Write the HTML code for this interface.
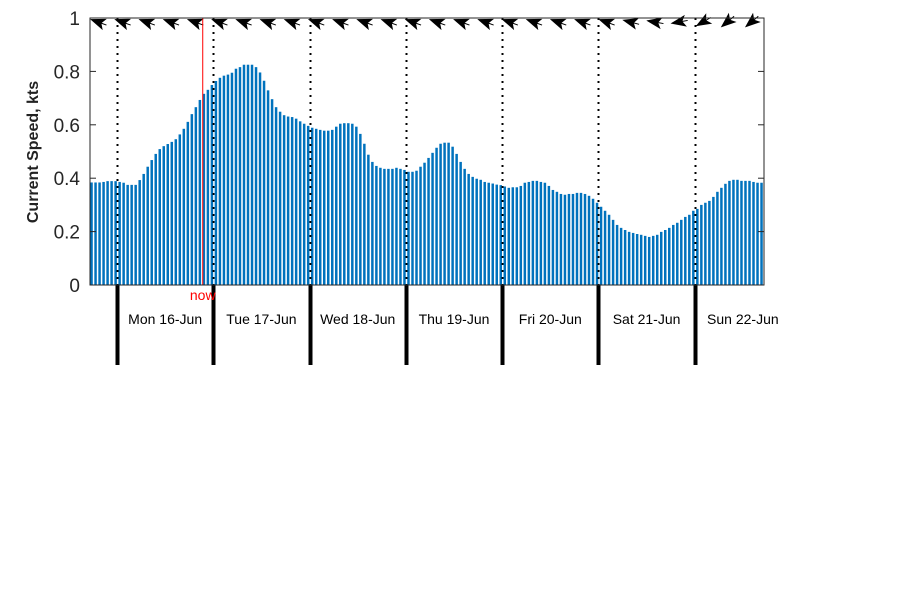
<!DOCTYPE html>
<html><head><meta charset="utf-8">
<style>
html,body{margin:0;padding:0;background:#fff;}
svg{display:block;font-family:"Liberation Sans","DejaVu Sans",sans-serif;}
</style></head>
<body>
<svg id="chart" width="900" height="600" viewBox="0 0 900 600" xmlns="http://www.w3.org/2000/svg">
<rect width="900" height="600" fill="#fff"/>
<g id="bars"></g>
<g id="grid"></g>
<g id="arrows"></g>
<g id="axes"></g>
<text x="0" y="0" transform="translate(38,152) rotate(-90)" text-anchor="middle" font-size="16" font-weight="bold" fill="#222">Current Speed, kts</text>
</svg>
<script>
const speeds = [
0.384,0.384,0.384,0.386,0.389,0.389,0.389,0.386,0.383,0.375,0.375,0.375,0.393,0.416,0.443,0.468,0.491,0.509,0.52,0.528,
0.536,0.546,0.564,0.585,0.611,0.64,0.666,0.693,0.716,0.731,0.749,0.764,0.776,0.784,0.788,0.795,0.81,0.816,0.825,0.825,
0.825,0.816,0.796,0.765,0.729,0.696,0.666,0.649,0.636,0.631,0.629,0.623,0.613,0.604,0.596,0.589,0.585,
0.581,0.578,0.578,0.581,0.593,0.604,0.606,0.606,0.604,0.593,0.566,0.529,0.488,0.461,0.446,0.439,0.435,0.435,0.435,0.439,
0.435,0.431,0.424,0.424,0.428,0.443,0.458,0.476,0.495,0.514,0.529,0.533,0.533,0.518,0.491,0.461,0.435,0.416,0.405,0.398,
0.394,0.386,0.383,0.38,0.376,0.374,0.369,0.364,0.366,0.366,0.371,0.383,0.386,0.39,0.39,
0.386,0.383,0.371,0.356,0.349,0.341,0.338,0.341,0.341,0.345,0.345,0.341,0.334,0.323,0.308,0.293,0.278,0.263,0.244,0.225,
0.214,0.206,0.199,0.195,0.191,0.188,0.184,0.18,0.184,0.188,0.199,0.206,0.214,0.225,0.233,0.244,0.255,0.263,0.278,0.285,
0.3,0.308,0.315,0.33,0.349,0.364,0.379,0.39,0.394,0.394,0.39,0.39,0.39,0.386,0.383,0.383
];
const dayLabels = ["Mon 16-Jun","Tue 17-Jun","Wed 18-Jun","Thu 19-Jun","Fri 20-Jun","Sat 21-Jun","Sun 22-Jun"];
const yTicks = [0,0.2,0.4,0.6,0.8,1];
const yTickLabels = ["0","0.2","0.4","0.6","0.8","1"];
const firstMidnightHour = 6.73;
const nowHour = 28.1;
const dirAngles = [200,200,200,200,200,200,200,200,200,200,200,200,200,200,200,200,200,200,200,200,200,200,195,190,170,150,140,140];

const NS="http://www.w3.org/2000/svg";
const X0=90,X1=764,Y0=285,Y1=18;
const nH=speeds.length;
const xs=h=>X0+(X1-X0)*h/nH;
const ys=v=>Y0-(Y0-Y1)*v;
function mk(tag,attrs,parent){const e=document.createElementNS(NS,tag);for(const k in attrs)e.setAttribute(k,attrs[k]);parent.appendChild(e);return e;}
const bars=document.getElementById('bars'),grid=document.getElementById('grid'),axes=document.getElementById('axes'),arrows=document.getElementById('arrows');
const step=(X1-X0)/nH;
speeds.forEach((v,i)=>{
  const r=mk('rect',{x:xs(i)+0.3,y:ys(v),width:step*0.62,height:Y0-ys(v),fill:'#0072BD'},bars);
  
  
});
// day lines & labels
dayLabels.forEach((lab,k)=>{
  const x=Math.round(xs(firstMidnightHour+24*k))+0.5;
  const l=mk('line',{x1:x,x2:x,y1:Y1,y2:Y0,stroke:'#000','stroke-width':2,'stroke-dasharray':'2 5'},grid);
  
  
  const t=mk('line',{x1:x,x2:x,y1:Y0,y2:365,stroke:'#000','stroke-width':4},axes);
  
  
  const lx=xs(firstMidnightHour+24*k+12);
  const tx=mk('text',{x:lx,y:324,'text-anchor':'middle','font-size':14,fill:'#000'},axes);
  tx.textContent=lab;
  
  
});
// now line
const nx=xs(nowHour);
const nl=mk('line',{x1:nx,x2:nx,y1:Y1,y2:Y0,stroke:'#ff0000','stroke-width':1},axes);


const nt=mk('text',{x:nx,y:300,'text-anchor':'middle','font-size':14,fill:'#ff0000'},axes);
nt.textContent='now';


// box
const bx=mk('rect',{x:X0,y:Y1,width:X1-X0,height:Y0-Y1,fill:'none',stroke:'#262626','stroke-width':1},axes);


// y ticks
yTicks.forEach((v,i)=>{
  const y=ys(v);
  mk('line',{x1:X0,x2:X0+6,y1:y,y2:y,stroke:'#262626'},axes);
  mk('line',{x1:X1,x2:X1-6,y1:y,y2:y,stroke:'#262626'},axes);
  const t=mk('text',{x:X0-10,y:y+7,'text-anchor':'end','font-size':19,fill:'#262626'},axes);
  t.textContent=yTickLabels[i];
  
  
});
// arrows
dirAngles.forEach((a,i)=>{
  const x=98+i*24.2,y=22;
  const g=mk('path',{d:'M7,0 L-6,-5 L-3,0 L-6,5 Z M-3,0 L-9,0',fill:'#000',stroke:'#000','stroke-width':1,transform:`translate(${x},${y}) rotate(${a})`},arrows);
  
  
});
</script>
</body></html>
